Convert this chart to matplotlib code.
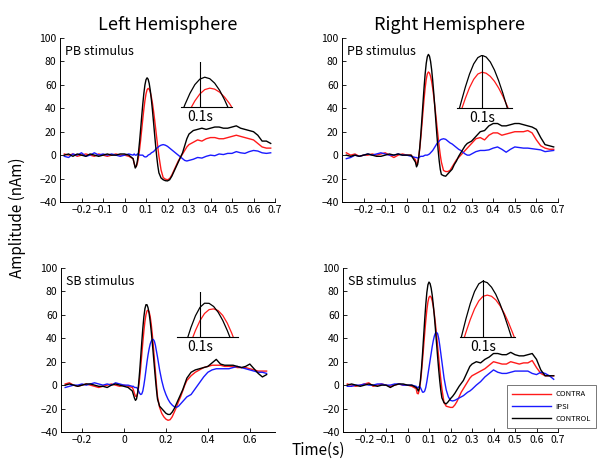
import numpy as np
import matplotlib
matplotlib.use('Agg')
import matplotlib.pyplot as plt
from matplotlib.lines import Line2D

plt.rcParams['font.family'] = ['Noto Sans CJK JP', 'DejaVu Sans']

# ---------------- data ----------------
# sampling grid (s): coarse baseline, fine around the response peak
time_s = np.round(np.concatenate([
    np.arange(-0.28, 0.041, 0.02),   # 17
    np.arange(0.045, 0.1601, 0.005), # 24
    np.arange(0.17, 0.301, 0.01),    # 14
    np.arange(0.32, 0.681, 0.02),    # 19
]), 3)

# PB stimulus, left hemisphere
pb_left_contra = ([1, 0, 1, -1, 0, 1, 0, -1, 1, 0, -1, 0, 1, 0, 0, -1, -3]
    + [-7, -10, -9.6, -6.9, -2.0, 4.7, 12.8, 21.7, 30.7, 39.2, 46.5, 52.2, 55.8, 57,
       56.2, 53.7, 49.6, 44.3, 37.8, 30.4, 22.5, 14.5, 6.6, -0.8]
    + [-12.6, -19.2, -20.5, -21, -20, -17, -13, -9, -5, -2, 1, 4, 7, 9]
    + [11, 13, 12, 14, 15, 15, 14, 14, 15, 16, 17, 16, 15, 14, 13, 10, 7, 6, 6])
pb_left_ipsi = ([-1, -2, 1, 0, 2, -1, 0, 2, 0, 1, 0, 1, 0, -1, 0, 1, 0]
    + [1, 0, 0, 1, 1, 0, 0, 0, 0, -1, -1.5, -1.5, -1, 0, 0.5, 1, 2, 2.5, 3, 4, 5, 6, 6.5, 7.5]
    + [8.5, 9, 8.5, 7.5, 6, 4.5, 3, 1.5, 0, -1.5, -3, -4.5, -5, -4.5]
    + [-3.5, -2, -2.5, -1, 0, -0.5, 1, 0.5, 1.5, 1.5, 3, 2, 1.5, 3, 4, 3.5, 2, 1.5, 2])
pb_left_control = ([0, 1, -1, 1, 0, -1, 1, 0, -1, 0, 1, 0, 0, 1, 1, 0, -3]
    + [-7, -11, -9.4, -4.9, 2.3, 11.5, 22, 33, 43.5, 52.7, 59.9, 64.4, 66, 64.8,
       61.1, 55.2, 47.4, 38.3, 28.2, 17.8, 7.7, -1.4, -9.2, -15.1]
    + [-19.5, -21, -21.8, -22, -21, -18, -14, -10, -6, -2, 2, 8, 14, 18]
    + [21, 22, 23, 22, 23, 24, 24, 23, 23, 24, 25, 23, 22, 21, 20, 17, 12, 12, 10])

# PB stimulus, right hemisphere
pb_right_contra = ([2, 0, 1, -1, 0, 0, 1, 0, 1, 2, 0, -2, 0, 1, 0, 0, -4]
    + [-8, -6.4, -1.7, 5.6, 15.1, 25.9, 37.1, 47.9, 57.4, 64.7, 69.4, 71, 70.1, 67.3,
       62.9, 57.0, 49.8, 41.6, 33.0, 24.0, 15.4, 7.3, 0.1, -5.9]
    + [-13.1, -14, -14, -13, -10, -7, -4, -2, 0, 2, 4, 6, 8, 10]
    + [14, 15, 13, 17, 19, 19, 17, 18, 19, 20, 20, 20, 21, 19, 13, 8, 6, 5, 5])
pb_right_ipsi = ([-3, -2, 0, -1, 0, 1, 0, 1, 2, 1, 0, 0, 1, 0, 0, -1, -2]
    + [-2, -2.5, -2, -1.5, -1, -1, -1, -0.5, 0, 0, 0, 0.5, 1, 2, 3, 4, 5.5, 7, 8.5, 10, 11, 12, 13, 13.5]
    + [14, 13.5, 12, 10.5, 9.5, 8, 6.5, 5, 4, 2.5, 1, 0, 0, 1]
    + [3, 4, 4, 4.5, 6, 7, 5, 2.5, 5, 7, 6.5, 6, 6, 5.5, 5, 4.5, 3, 3.5, 4])
pb_right_control = ([0, -1, 0, -1, 0, 1, 0, -1, -1, 0, 1, 0, 1, 0, 0, 0, -6]
    + [-10, -8.1, -2.4, 6.6, 18.1, 31.2, 44.8, 57.9, 69.4, 78.4, 84.0, 86, 84.5, 80.1,
       72.9, 63.5, 52.5, 40.3, 27.7, 15.5, 4.5, -4.9, -12.1, -16.5]
    + [-17.5, -18, -16, -14, -12, -8, -5, -1, 2, 5, 8, 10, 11, 12]
    + [16, 20, 21, 25, 27, 27, 25, 25, 26, 27, 27, 26, 25, 24, 22, 15, 9, 8, 7])

# SB stimulus, left hemisphere
sb_left_contra = ([1, 2, 0, -1, 0, 1, 0, -1, -2, -1, 0, 1, 0, -1, 0, -1, -2]
    + [-4, -7, -9.5, -9.8, -7.1, -1.6, 6.1, 15.6, 25.9, 36.4, 46.1, 54.3, 60.2, 63.4,
       64, 62.6, 58.6, 52.2, 43.7, 33.7, 22.7, 11.3, 0.3, -9.7]
    + [-19, -24, -27, -29, -30, -29.5, -27, -23, -19, -14, -10, -5, 0, 4]
    + [8, 11, 13, 15, 16, 17, 17, 17, 16, 16, 16, 15, 15, 15, 14, 13, 12, 12, 12])
sb_left_ipsi = ([-2, -1, 0, 0, 1, 0, 1, 2, 1, 0, 1, 0, 2, 1, 0, 0, -1]
    + [-1, -2, -2, -2, -3, -5, -7, -8, -7.5, -5, 0, 6, 13, 20, 26, 31, 35, 37.5, 39, 39, 37.5, 34, 29, 24]
    + [13, 4, -3, -8, -12, -15, -17, -18.5, -19, -18, -16, -14, -12, -10]
    + [-8, -3, 2, 7, 11, 13, 14, 14, 14, 14, 15, 16, 15, 14, 13, 12, 11, 11, 10])
sb_left_control = ([0, 1, 0, -1, 0, 1, 1, 0, -1, -1, -2, 0, 1, 0, -1, -2, -5]
    + [-8, -11, -13, -11.8, -6.9, 1.3, 12.0, 24.2, 36.8, 48.5, 58.3, 65.3, 68.7, 68.6,
       66.0, 61.2, 54.5, 46.1, 36.5, 26.2, 15.7, 5.5, -3.9, -12.0]
    + [-18, -20, -22, -24, -25, -25, -23, -20, -16, -12, -8, -4, 1, 6]
    + [11, 13, 14, 15, 16, 19, 22, 18, 17, 17, 17, 16, 15, 16, 18, 14, 10, 7, 9])

# SB stimulus, right hemisphere
sb_right_contra = ([1, 0, -1, 0, 1, 2, -1, 0, 1, 0, -1, 0, 1, 0, 0, -1, -3]
    + [-7, -7.4, -4.0, 2.3, 11.0, 21.5, 32.8, 44.3, 55.0, 64.2, 71.0, 75.0, 76, 75.0,
       71.9, 66.9, 60.3, 52.3, 43.2, 33.5, 23.5, 13.8, 4.8, -3.3]
    + [-14.9, -18, -18.5, -19, -19, -17, -14, -10, -6, -3, 0, 3, 6, 8]
    + [10, 12, 14, 17, 20, 19, 18, 18, 20, 19, 18, 19, 19, 21, 15, 10, 8, 8, 8])
sb_right_ipsi = ([-1, -1, 0, 0, 1, 0, 0, 1, 1, 0, 0, 1, 1, 0, 0, 0, -1]
    + [-2, -2, -1, -2, -4, -6, -6, -5, -2, 3, 9, 15, 21, 27, 33, 38, 42, 44.5, 45, 44, 40, 34, 27, 20]
    + [6, -4, -10, -13, -13.5, -13, -12, -11, -10, -9, -7.5, -6, -5, -3.5]
    + [0, 3, 7, 10, 13, 11, 10, 10, 11, 12, 12, 12, 12, 10, 9, 11, 10, 8, 5])
sb_right_control = ([0, 1, 0, -1, 0, 1, 0, -1, 0, 0, -2, 0, 1, 1, 0, 0, -2]
    + [-3, -5, -2.7, 3.9, 14.2, 27.1, 41.5, 55.9, 68.8, 79.1, 85.7, 88, 86.7, 82.8,
       76.7, 68.4, 58.6, 47.6, 36, 24.4, 13.4, 3.6, -4.7, -10.9]
    + [-15, -16, -14, -11.5, -9.5, -7, -4, -1, 1.5, 4, 8, 12, 16, 18]
    + [20, 19, 22, 24, 27, 27, 26, 26, 28, 26, 25, 25, 26, 27, 22, 13, 8, 8, 8])

series_labels = ['CONTRA', 'IPSI', 'CONTROL']
column_titles = ['Left Hemisphere', 'Right Hemisphere']
row_labels = ['PB stimulus', 'SB stimulus']

yticks = [-40, -20, 0, 20, 40, 60, 80, 100]
yticklabels = ['\u221240', '\u221220', '0', '20', '40', '60', '80', '100']
xticks_fine = [-0.2, -0.1, 0, 0.1, 0.2, 0.3, 0.4, 0.5, 0.6, 0.7]
xticklabels_fine = ['\u22120.2', '\u22120.1', '0', '0.1', '0.2', '0.3', '0.4', '0.5', '0.6', '0.7']
xticks_coarse = [-0.2, 0, 0.2, 0.4, 0.6]
xticklabels_coarse = ['\u22120.2', '0', '0.2', '0.4', '0.6']
inset_marker_time = 0.1
inset_marker_label = '0.1s'

# ---------------- style / layout ----------------
W, H = 597, 461
colors = {'CONTRA': '#ff1a1a', 'IPSI': '#1a1aff', 'CONTROL': '#000000'}

panels = [
    dict(rect=(60, 38, 275, 202), data=(pb_left_contra, pb_left_ipsi, pb_left_control),
         xlim=(-0.3, 0.7), xt=xticks_fine, xtl=xticklabels_fine, title=column_titles[0],
         label=row_labels[0],
         inset=(181, 62, 232, 107), ixlim=(0.081, 0.1325), iylim=(41.5, 78.5)),
    dict(rect=(342, 38, 558, 202), data=(pb_right_contra, pb_right_ipsi, pb_right_control),
         xlim=(-0.3, 0.7), xt=xticks_fine, xtl=xticklabels_fine, title=column_titles[1],
         label=row_labels[0],
         inset=(457, 55, 512, 108), ixlim=(0.0699, 0.1361), iylim=(39.2, 86.3)),
    dict(rect=(61, 268, 275, 432), data=(sb_left_contra, sb_left_ipsi, sb_left_control),
         xlim=(-0.3, 0.72), xt=xticks_coarse, xtl=xticklabels_coarse, title=None,
         label=row_labels[1],
         inset=(177, 292, 238, 337), ixlim=(0.0747, 0.1418), iylim=(40.7, 78)),
    dict(rect=(343, 268, 558, 432), data=(sb_right_contra, sb_right_ipsi, sb_right_control),
         xlim=(-0.3, 0.7), xt=xticks_fine, xtl=xticklabels_fine, title=None,
         label=row_labels[1],
         inset=(460, 280, 515, 337), ixlim=(0.0729, 0.1376), iylim=(40, 89)),
]


def px_rect(x0, y0, x1, y1):
    return [x0 / W, 1 - y1 / H, (x1 - x0) / W, (y1 - y0) / H]


fig = plt.figure(figsize=(W / 100, H / 100), dpi=100)

for p in panels:
    ax = fig.add_axes(px_rect(*p['rect']))
    for lab, y in zip(series_labels, p['data']):
        ax.plot(time_s, y, color=colors[lab], lw=1.0)
    ax.set_xlim(*p['xlim'])
    ax.set_ylim(-40, 100)
    ax.set_xticks(p['xt'])
    ax.set_xticklabels(p['xtl'])
    ax.set_yticks(yticks)
    ax.set_yticklabels(yticklabels)
    for s in ('top', 'right'):
        ax.spines[s].set_visible(False)
    for s in ('left', 'bottom'):
        ax.spines[s].set_linewidth(0.7)
    ax.tick_params(direction='in', length=3, width=0.6, labelsize=7.5, pad=2.5)
    ax.set_facecolor('none')
    if p['title']:
        ax.set_title(p['title'], fontsize=13, pad=6)
    ax.text(0.025, 0.895, p['label'], transform=ax.transAxes, fontsize=9,
            ha='left', va='baseline')

    # inset: magnified view of the main peak
    ia = fig.add_axes(px_rect(*p['inset']))
    ia.set_facecolor('none')
    ia.plot(time_s, p['data'][0], color=colors['CONTRA'], lw=0.9)
    ia.plot(time_s, p['data'][2], color=colors['CONTROL'], lw=0.9)
    ia.set_xlim(*p['ixlim'])
    ia.set_ylim(*p['iylim'])
    ia.axvline(inset_marker_time, color='black', lw=0.8)
    for s in ('top', 'right', 'left'):
        ia.spines[s].set_visible(False)
    ia.spines['bottom'].set_linewidth(0.8)
    ia.set_xticks([])
    ia.set_yticks([])
    ia.annotate(inset_marker_label, xy=(inset_marker_time, p['iylim'][0]),
                xycoords='data', xytext=(0, -2), textcoords='offset points',
                ha='center', va='top', fontsize=10, annotation_clip=False)

fig.text(17 / W, 1 - 218 / H, 'Amplitude (nAm)', rotation=90, ha='center',
         va='center', fontsize=11)
fig.text(318 / W, 0.004, 'Time(s)', ha='center', va='bottom', fontsize=11)

handles = [Line2D([], [], color=colors[l], lw=1.0) for l in series_labels]
leg = fig.legend(handles, series_labels, loc='upper left',
                 bbox_to_anchor=(507 / W, 1 - 385 / H), fontsize=5.5,
                 frameon=True, fancybox=False, edgecolor='#555555',
                 handlelength=5.0, handletextpad=0.6, labelspacing=0.55,
                 borderpad=0.7, borderaxespad=0)
leg.get_frame().set_linewidth(0.7)

fig.savefig('out.png', dpi=100)
